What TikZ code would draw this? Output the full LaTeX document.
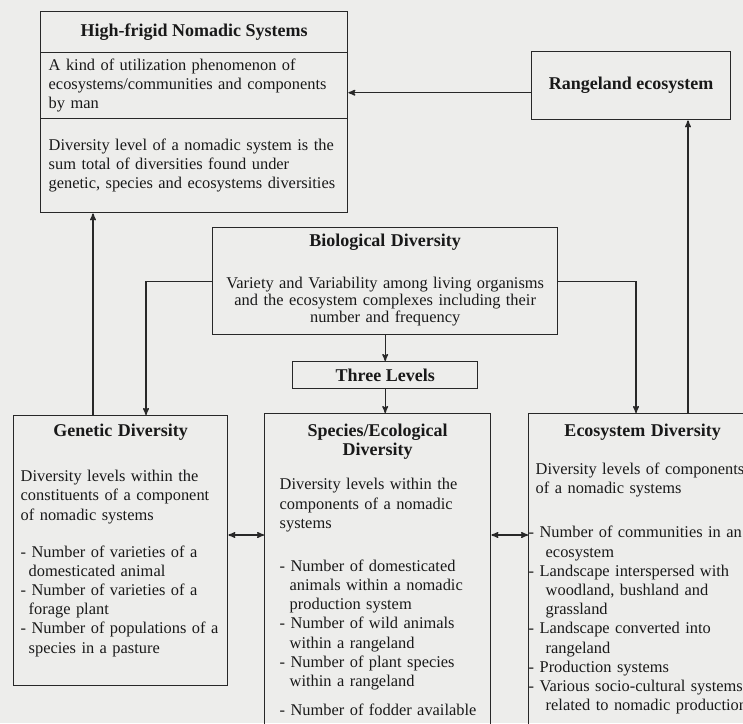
\documentclass[tikz,border=0pt]{standalone}
\usepackage{fontspec}
\setmainfont{Liberation Serif}
\usetikzlibrary{arrows}
\definecolor{line_gray}{RGB}{40,40,40}
\definecolor{text_black}{RGB}{25,25,25}
\definecolor{paper_gray}{RGB}{237,237,235}
\newcommand{\bodysize}{\fontsize{16.4}{19.2}\selectfont}
\newcommand{\headsize}{\fontsize{18}{20}\selectfont\bfseries}
\newcommand{\boxhead}[1]{\makebox[\linewidth]{\headsize #1}}

\begin{document}
\begin{tikzpicture}[->,>=stealth',line width=1.4pt,x=1pt,y=-1pt]
    \tikzstyle{box}=[draw=line_gray, rectangle, anchor=north west, inner sep=0pt, text=text_black, font=\bodysize]
    \tikzstyle{head}=[style=box, font=\headsize, align=center]
    \tikzstyle{note}=[style=box, align=left, inner xsep=8pt]
    \tikzstyle{level}=[style=box, align=left, inner xsep=7pt]
    \tikzstyle{link}=[draw=line_gray]

    \useasboundingbox (0,0) rectangle (743,723);
    \fill[paper_gray] (0,0) rectangle (743,723);
    \clip (0,0) rectangle (743,723);

    \node[head, minimum width=307pt, minimum height=41pt] (hf_title) at (40,11) {High-frigid Nomadic Systems};
    \node[note, minimum width=307pt, minimum height=66pt, text width=291pt] (hf_use) at (40,52)
        {A kind of utilization phenomenon of\\ecosystems/communities and components\\by man};
    \node[note, minimum width=307pt, minimum height=94pt, text width=291pt] (hf_sum) at (40,118)
        {Diversity level of a nomadic system is the\\sum total of diversities found under\\genetic, species and ecosystems diversities};
    \node[head, minimum width=199pt, minimum height=68pt] (range) at (531,51) {Rangeland ecosystem};

    \node[box, align=center, text width=345pt, text height=19pt, text depth=88pt, font=\fontsize{16.4}{17}\selectfont] (bio) at (212,227)
        {{\headsize Biological Diversity}\\[25pt]Variety and Variability among living organisms\\and the ecosystem complexes including their\\number and frequency};
    \node[head, minimum width=185pt, minimum height=27pt] (three) at (292,361) {Three Levels};

    \node[level, text width=200pt, text height=21pt, text depth=249pt] (gen) at (13,415)
        {\boxhead{Genetic Diversity}\\[25.8pt]Diversity levels within the\\constituents of a component\\of nomadic systems\\[17.8pt]%
         - Number of varieties of a\\\hspace*{8pt}domesticated animal\\- Number of varieties of a\\\hspace*{8pt}forage plant\\%
         - Number of populations of a\\\hspace*{8pt}species in a pasture};
    \node[level, inner xsep=12pt, text width=202pt, text height=23pt, text depth=344pt] (spe) at (264,413)
        {\boxhead{Species/Ecological}\\\boxhead{Diversity}\\[14.8pt]\hspace*{3pt}Diversity levels within the\\\hspace*{3pt}components of a nomadic\\\hspace*{3pt}systems\\[23.8pt]%
         \hspace*{3pt}- Number of domesticated\\\hspace*{13pt}animals within a nomadic\\\hspace*{13pt}production system\\\hspace*{3pt}- Number of wild animals\\\hspace*{13pt}within a rangeland\\%
         \hspace*{3pt}- Number of plant species\\\hspace*{13pt}within a rangeland\\[10pt]\hspace*{3pt}- Number of fodder available};
    \node[level, text width=214pt, text height=23pt, text depth=344pt] (eco) at (528,413)
        {\boxhead{Ecosystem Diversity}\\[18.8pt]Diversity levels of components\\of a nomadic systems\\[24.8pt]%
         \hspace*{-7pt}- Number of communities in an\\\hspace*{10pt}ecosystem\\\hspace*{-7pt}- Landscape interspersed with\\\hspace*{10pt}woodland, bushland and\\\hspace*{10pt}grassland\\%
         \hspace*{-7pt}- Landscape converted into\\\hspace*{10pt}rangeland\\\hspace*{-7pt}- Production systems\\%
         \hspace*{-7pt}- Various socio-cultural systems\\\hspace*{10pt}related to nomadic production};

    \path
     ([yshift=-7pt]range.west) edge[link] ([yshift=-7pt]range.west -| hf_use.east)
     ([xshift=80pt]gen.north west) edge[link] ([xshift=80pt]gen.north west |- hf_sum.south)
     ([xshift=160pt]eco.north west) edge[link] ([xshift=160pt]eco.north west |- range.south)
     (bio) edge[link] (three)
     (three.south) edge[link] (three.south |- spe.north)
     ([yshift=-120pt]gen.north east) edge[link, <->] ([yshift=-120pt]gen.north east -| spe.west)
     ([yshift=-122pt]spe.north east) edge[link, <->] ([yshift=-122pt]spe.north east -| eco.west)
     ;
    \draw[link] (bio.west) -| ([xshift=133pt]gen.north west);
    \draw[link] (bio.east) -| ([xshift=108pt]eco.north west);
\end{tikzpicture}
\end{document}
